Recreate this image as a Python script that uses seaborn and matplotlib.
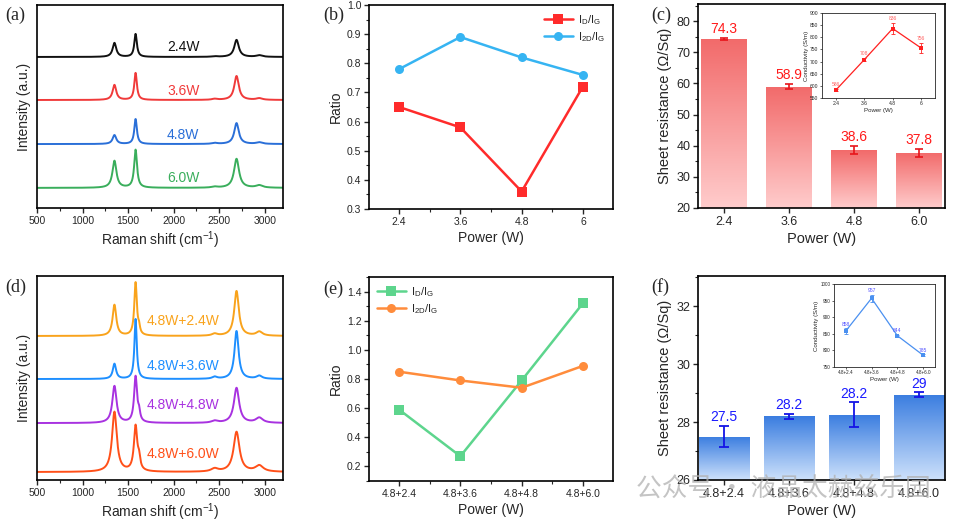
import numpy as np
import pandas as pd
import matplotlib
matplotlib.use("Agg")
import matplotlib.pyplot as plt
from matplotlib.colors import LinearSegmentedColormap
from matplotlib.ticker import MultipleLocator
import seaborn as sns

sns.set_theme(style="ticks")
plt.rcParams['font.family'] = ['Liberation Sans', 'DejaVu Sans']
plt.rcParams['mathtext.fontset'] = 'custom'
plt.rcParams['mathtext.rm'] = 'Liberation Sans'
plt.rcParams['mathtext.it'] = 'Liberation Sans'

# ---- Raman peaks (cm-1): D, G, D', D+D'', 2D, D+G ----
peak_pos = [1350, 1582, 1620, 2450, 2690, 2940]
peak_hw = [24, 17, 12, 35, 30, 40]

a_labels = ["2.4W", "3.6W", "4.8W", "6.0W"]
a_colors = ["#111111", "#f03a3a", "#2a6fd8", "#3aae5c"]
a_offsets = [0.744, 0.532, 0.315, 0.099]
a_heights = [[0.069, 0.113, 0.0, 0.003, 0.084, 0.008],
             [0.074, 0.133, 0.0, 0.005, 0.118, 0.008],
             [0.044, 0.123, 0.0, 0.005, 0.103, 0.008],
             [0.133, 0.187, 0.0, 0.005, 0.143, 0.012]]
a_widthscale = [1.0, 1.0, 1.0, 1.1]

d_labels = ["4.8W+2.4W", "4.8W+3.6W", "4.8W+4.8W", "4.8W+6.0W"]
d_colors = ["#f9a31c", "#1e8fff", "#a832e0", "#ff5019"]
d_offsets = [0.706, 0.495, 0.279, 0.039]
d_heights = [[0.152, 0.26, 0.03, 0.01, 0.22, 0.02],
             [0.074, 0.294, 0.0, 0.01, 0.235, 0.015],
             [0.181, 0.225, 0.04, 0.01, 0.172, 0.025],
             [0.294, 0.22, 0.05, 0.015, 0.196, 0.03]]
d_widthscale = [1.0, 0.9, 1.15, 1.3]

# ---- ratios ----
b_power = [2.4, 3.6, 4.8, 6.0]
b_id_ig = [0.65, 0.58, 0.36, 0.72]
b_i2d_ig = [0.78, 0.89, 0.82, 0.76]

e_power = ["4.8+2.4", "4.8+3.6", "4.8+4.8", "4.8+6.0"]
e_id_ig = [0.59, 0.27, 0.79, 1.32]
e_i2d_ig = [0.85, 0.79, 0.74, 0.89]

# ---- sheet resistance ----
c_power = ["2.4", "3.6", "4.8", "6.0"]
c_rs = [74.3, 58.9, 38.6, 37.8]
c_rs_err = [0.4, 0.8, 1.2, 1.3]
c_cond = [583, 708, 836, 756]
c_cond_err = [4, 6, 22, 22]
c_cond_labels = ["586", "708", "836", "756"]

f_power = ["4.8+2.4", "4.8+3.6", "4.8+4.8", "4.8+6.0"]
f_rs = [27.5, 28.2, 28.25, 28.95]
f_rs_err = [0.37, 0.09, 0.43, 0.08]
f_rs_labels = ["27.5", "28.2", "28.2", "29"]
f_cond = [858, 957, 844, 785]
f_cond_err = [8, 10, 3, 3]
f_cond_labels = ["858", "957", "844", "785"]

shift = np.linspace(500, 3200, 1500)

fig = plt.figure(figsize=(9.57, 5.26), dpi=100)


def add_ax(l, t, r, b):
    return fig.add_axes([l / 957, 1 - b / 526, (r - l) / 957, (b - t) / 526])


def style(ax, fs=7.5):
    for s in ax.spines.values():
        s.set_linewidth(1.2)
        s.set_color("black")
    ax.tick_params(which="major", direction="out", length=3.5, width=1.0, labelsize=fs, pad=2)
    ax.tick_params(which="minor", direction="out", length=2, width=0.8)


def spectra(ax, labels, colors, offsets, heights, wscale, text_x, text_y):
    rows = []
    for lab, off, hs, ws in zip(labels, offsets, heights, wscale):
        y = np.full_like(shift, off)
        for p, w, h in zip(peak_pos, peak_hw, hs):
            hw = w * ws
            y = y + h * hw ** 2 / ((shift - p) ** 2 + hw ** 2)
        rows.append(pd.DataFrame({"shift": shift, "I": y, "s": lab}))
    df = pd.concat(rows)
    sns.lineplot(data=df, x="shift", y="I", hue="s", palette=colors, ax=ax,
                 legend=False, linewidth=1.4, estimator=None)
    for lab, c, ty in zip(labels, colors, text_y):
        ax.text(text_x, ty, lab, color=c, fontsize=10, ha="center", va="center")
    ax.set_xlim(500, 3200)
    ax.set_ylim(0, 1)
    ax.set_yticks([])
    ax.xaxis.set_major_locator(MultipleLocator(500))
    ax.xaxis.set_minor_locator(MultipleLocator(250))
    ax.set_xlabel("Raman shift (cm$^{-1}$)", fontsize=10, labelpad=3)
    ax.set_ylabel("Intensity (a.u.)", fontsize=10, labelpad=4)
    style(ax)


def gradient_bars(ax, top, bottom):
    cmap = LinearSegmentedColormap.from_list("g", [bottom, top])
    ylo = ax.get_ylim()[0]
    xl, yl = ax.get_xlim(), ax.get_ylim()
    grad = np.linspace(0, 1, 256).reshape(-1, 1)
    for p in list(ax.patches):
        x0, w, h = p.get_x(), p.get_width(), p.get_height()
        im = ax.imshow(grad, extent=[x0, x0 + w, ylo, h], origin="lower",
                       cmap=cmap, aspect="auto", zorder=1.5)
        im.set_clip_path(p)
        p.set_facecolor("none")
        p.set_edgecolor("none")
    ax.set_xlim(xl)
    ax.set_ylim(yl)


def ratio_plot(ax, x, y1, y2, c1, c2, loc):
    df = pd.DataFrame({"x": list(x) * 2, "r": list(y1) + list(y2),
                       "k": ["$I_D/I_G$"] * 4 + ["$I_{2D}/I_G$"] * 4})
    sns.lineplot(data=df, x="x", y="r", hue="k", style="k", markers=["s", "o"],
                 dashes=False, palette=[c1, c2], ax=ax, linewidth=1.8,
                 markersize=6.5, markeredgewidth=0, sort=False)
    ax.legend(loc=loc, frameon=False, fontsize=8, handlelength=2.6,
              handletextpad=0.5, borderaxespad=0.3, labelspacing=0.3)
    ax.set_xlabel("Power (W)", fontsize=10, labelpad=3)
    ax.set_ylabel("Ratio", fontsize=10, labelpad=3)
    style(ax)


# (a)
ax_a = add_ax(37, 5, 283, 208)
spectra(ax_a, a_labels, a_colors, a_offsets, a_heights, a_widthscale, 2105,
        [(208 - 47) / 203, (208 - 91) / 203, (208 - 135) / 203, (208 - 178) / 203])

# (d)
ax_d = add_ax(37, 276, 283, 480)
spectra(ax_d, d_labels, d_colors, d_offsets, d_heights, d_widthscale, 2105,
        [(480 - 321) / 204, (480 - 366) / 204, (480 - 405) / 204, (480 - 454) / 204])

# (b)
ax_b = add_ax(369, 5, 613, 209)
ratio_plot(ax_b, b_power, b_id_ig, b_i2d_ig, "#ff2b2b", "#36b4f2", "upper right")
ax_b.set_xlim(1.81, 6.59)
ax_b.set_ylim(0.3, 1.0)
ax_b.set_xticks(b_power, ["2.4", "3.6", "4.8", "6"])
ax_b.xaxis.set_minor_locator(MultipleLocator(0.6))
ax_b.yaxis.set_major_locator(MultipleLocator(0.1))
ax_b.yaxis.set_minor_locator(MultipleLocator(0.05))

# (e)
ax_e = add_ax(369, 277, 613, 481)
ratio_plot(ax_e, e_power, e_id_ig, e_i2d_ig, "#5dd58d", "#ff8c3c", "upper left")
ax_e.set_xlim(-0.49, 3.49)
ax_e.set_ylim(0.1, 1.5)
ax_e.set_xticks(range(4), e_power)
ax_e.set_xticks([0.5, 1.5, 2.5], minor=True)
ax_e.yaxis.set_major_locator(MultipleLocator(0.2))
ax_e.yaxis.set_minor_locator(MultipleLocator(0.1))

# (c)
ax_c = add_ax(698, 4, 945, 208)
sns.barplot(x=c_power, y=c_rs, ax=ax_c, width=0.7, color="#f26b6b", zorder=1.5)
ax_c.set_xlim(-0.4, 3.4)
ax_c.set_ylim(20, 85.5)
gradient_bars(ax_c, "#f26a6a", "#ffcccc")
ax_c.errorbar(range(4), c_rs, yerr=c_rs_err, fmt="none", ecolor="#e8141a",
              elinewidth=1.2, capsize=3, capthick=1.2, zorder=3)
for i, v in enumerate(c_rs):
    ax_c.text(i, v + c_rs_err[i] + 0.6, f"{v}", color="#ff1a1a", fontsize=10,
              ha="center", va="bottom")
ax_c.yaxis.set_major_locator(MultipleLocator(10))
ax_c.yaxis.set_minor_locator(MultipleLocator(5))
ax_c.set_xlabel("Power (W)", fontsize=10.5, labelpad=3)
ax_c.set_ylabel("Sheet resistance (\u03a9/Sq)", fontsize=10.5, labelpad=3)
style(ax_c, fs=9)

ax_ci = add_ax(822, 13, 935, 98)
sns.lineplot(x=b_power, y=c_cond, ax=ax_ci, color="#ff2020", marker="s",
             markersize=3, markeredgewidth=0, linewidth=0.9)
ax_ci.errorbar(b_power, c_cond, yerr=c_cond_err, fmt="none", ecolor="#ff2020",
               elinewidth=0.6, capsize=1.2, capthick=0.6)
for xv, v, e, t in zip(b_power, c_cond, c_cond_err, c_cond_labels):
    ax_ci.text(xv, v + e + 8, t, color="#ff6060",
               fontsize=3.6, ha="center", va="bottom")
ax_ci.set_xlim(1.81, 6.59)
ax_ci.set_ylim(550, 900)
ax_ci.set_xticks(b_power, ["2.4", "3.6", "4.8", "6"])
ax_ci.yaxis.set_major_locator(MultipleLocator(50))
ax_ci.set_xlabel("Power (W)", fontsize=4.4, labelpad=1)
ax_ci.set_ylabel("Conductivity (S/m)", fontsize=4.4, labelpad=1)
for s in ax_ci.spines.values():
    s.set_linewidth(0.6)
ax_ci.tick_params(labelsize=3.6, length=1.5, width=0.5, pad=1)

# (f)
ax_f = add_ax(698, 276, 945, 480)
sns.barplot(x=f_power, y=f_rs, ax=ax_f, width=0.77, color="#3b7fe0", zorder=1.5)
ax_f.set_xlim(-0.4, 3.4)
ax_f.set_ylim(26, 33.05)
gradient_bars(ax_f, "#3a7de0", "#cde1fb")
ax_f.errorbar(range(4), f_rs, yerr=f_rs_err, fmt="none", ecolor="#1414e6",
              elinewidth=1.3, capsize=3.5, capthick=1.3, zorder=3)
for i, (v, t) in enumerate(zip(f_rs, f_rs_labels)):
    ax_f.text(i, v + f_rs_err[i] + 0.05, t, color="#1a1aff", fontsize=10,
              ha="center", va="bottom")
ax_f.yaxis.set_major_locator(MultipleLocator(2))
ax_f.yaxis.set_minor_locator(MultipleLocator(1))
ax_f.set_xlabel("Power (W)", fontsize=10.5, labelpad=3)
ax_f.set_ylabel("Sheet resistance (\u03a9/Sq)", fontsize=10.5, labelpad=3)
style(ax_f, fs=9)

ax_fi = add_ax(834, 284, 935, 367)
sns.lineplot(x=f_power, y=f_cond, ax=ax_fi, color="#4a90f0", marker="s",
             markersize=3, markeredgewidth=0, linewidth=0.9, sort=False)
ax_fi.errorbar(range(4), f_cond, yerr=f_cond_err, fmt="none", ecolor="#4a90f0",
               elinewidth=0.6, capsize=1.2, capthick=0.6)
for i, (v, t) in enumerate(zip(f_cond, f_cond_labels)):
    ax_fi.text(i, v + f_cond_err[i] + 5, t, color="#5050ff",
               fontsize=3.6, ha="center", va="bottom")
ax_fi.set_xlim(-0.45, 3.45)
ax_fi.set_ylim(750, 1000)
ax_fi.yaxis.set_major_locator(MultipleLocator(50))
ax_fi.set_xlabel("Power (W)", fontsize=4.4, labelpad=1)
ax_fi.set_ylabel("Conductivity (S/m)", fontsize=4.4, labelpad=1)
for s in ax_fi.spines.values():
    s.set_linewidth(0.6)
ax_fi.tick_params(labelsize=3.3, length=1.5, width=0.5, pad=1)

# panel letters
for lab, px, py in [("(a)", 5, 15), ("(b)", 323, 15), ("(c)", 651, 15),
                    ("(d)", 5, 287), ("(e)", 323, 289), ("(f)", 651, 287)]:
    fig.text(px / 957, 1 - py / 526, lab, fontsize=13, family="Liberation Serif",
             ha="left", va="center")

# watermark
fig.text(636 / 957, 1 - 489 / 526, "公众号 · 液晶太赫兹乐园", fontsize=18.5,
         color="#b0b0b0", alpha=0.75, ha="left", va="center",
         family=["Noto Sans CJK SC", "DejaVu Sans"], zorder=10)

fig.savefig("out.png", dpi=100)
